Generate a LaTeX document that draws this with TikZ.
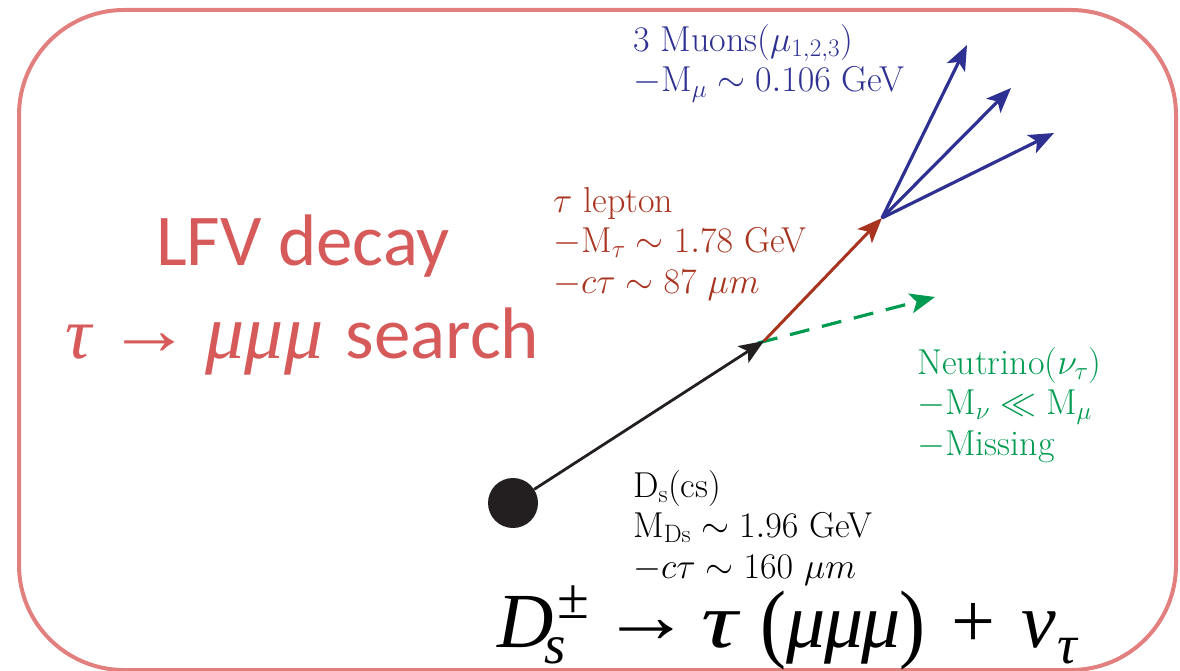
\RequirePackage{fix-cm}
\documentclass[tikz,border=0pt]{standalone}
\usepackage{fontspec}
\usetikzlibrary{arrows.meta}
\newfontfamily\calib{Carlito}
\newfontfamily\camb{Liberation Serif}
\definecolor{framecol}{RGB}{226,128,128}
\definecolor{lfvcol}{RGB}{214,90,90}
\definecolor{mublue}{RGB}{46,49,146}
\definecolor{taured}{RGB}{168,52,32}
\definecolor{nugreen}{RGB}{0,155,80}
\definecolor{dotblack}{RGB}{35,31,32}
\newcommand{\putat}[2]{\rlap{\hspace{#1}#2}}
\newcommand{\wideArrow}{\scalebox{1.15}[1]{→}}
\begin{document}
\begin{tikzpicture}[x=1pt,y=-1pt,
  tip/.style={-{Stealth[length=25pt,width=20pt,inset=6pt]}},
  lbl/.style={anchor=base west,inner sep=0,align=left,font=\fontsize{36}{40.5}\selectfont},
  big/.style={inner sep=0,lfvcol,font=\calib\fontsize{73}{88}\selectfont}]
\useasboundingbox (0,0) rectangle (1180,671);
\draw[framecol, line width=4pt, rounded corners=105pt] (19,10) rectangle (1176,670);

\node[circle, fill=dotblack, minimum size=50pt, inner sep=0] (ds) at (513,503) {};
\coordinate (tauv) at (764,341);
\coordinate (muv) at (882,218);
\coordinate (m1) at (967,45);
\coordinate (m2) at (1011,88);
\coordinate (m3) at (1054,133);
\coordinate (nustart) at (758,343);
\coordinate (nu) at (935,297);

\draw[tip, nugreen, line width=3.2pt, dash pattern=on 20pt off 13pt] (nustart) -- (nu);
\draw[tip, taured, line width=3pt] (tauv) -- (muv);
\draw[tip, mublue, line width=3.2pt] (muv) -- (m1);
\draw[tip, mublue, line width=3.2pt] (muv) -- (m2);
\draw[tip, mublue, line width=3.2pt] (muv) -- (m3);
\draw[tip, dotblack, line width=2.8pt] (ds) -- (tauv);

\node[lbl, mublue] (mulbl) at (633,92) {3 Muons($\mu_{1,2,3}$)\\$-\mathrm{M}_\mu\sim0.106$ GeV};
\node[lbl, taured] (taulbl) at (553,293) {$\tau$ lepton\\$-\mathrm{M}_\tau\sim1.78$ GeV\\$-c\tau\sim87\ \mu m$};
\node[lbl, nugreen] (nulbl) at (917,455) {Neutrino($\nu_\tau$)\\$-\mathrm{M}_\nu\ll\mathrm{M}_\mu$\\$-$Missing};
\node[lbl, black] (dslbl) at (633,578) {$\mathrm{D_s}$(cs)\\$\mathrm{M_{Ds}}\sim1.96$ GeV\\$-c\tau\sim160\ \mu m$};

\node[big, anchor=base] (lfv1) at (303,265) {LFV decay};
\node[big, anchor=base west] (lfv2) at (65,358)
  {\putat{0pt}{\camb\itshape τ}%
   \putat{42pt}{\camb\raisebox{4pt}{\wideArrow}}%
   \putat{140pt}{\camb\itshape\fontsize{78}{88}\selectfont μμμ}%
   \putat{280pt}{search}\hspace{472pt}};

\node[anchor=base west, inner sep=0, black, font=\camb\fontsize{78}{90}\selectfont] (eq) at (497,647)
  {\putat{0pt}{\itshape D}%
   \putat{60pt}{\raisebox{29pt}{\fontsize{58}{60}\selectfont ±}}%
   \putat{47pt}{\raisebox{-16pt}{\fontsize{55}{60}\selectfont\itshape s}}%
   \putat{104pt}{\raisebox{5pt}{\wideArrow}}%
   \putat{204pt}{\itshape\scalebox{1.3}[1]{τ}}%
   \putat{263pt}{\raisebox{-4pt}{\scalebox{1}[1.12]{(}}}%
   \putat{289pt}{\itshape μ}%
   \putat{327pt}{\itshape μ}%
   \putat{364pt}{\itshape μ}%
   \putat{402pt}{\raisebox{-4pt}{\scalebox{1}[1.12]{)}}}%
   \putat{454pt}{+}%
   \putat{524pt}{\itshape ν}%
   \putat{560pt}{\raisebox{-16pt}{\fontsize{55}{60}\selectfont\itshape τ}}%
   \hspace{588pt}};
\end{tikzpicture}
\end{document}
